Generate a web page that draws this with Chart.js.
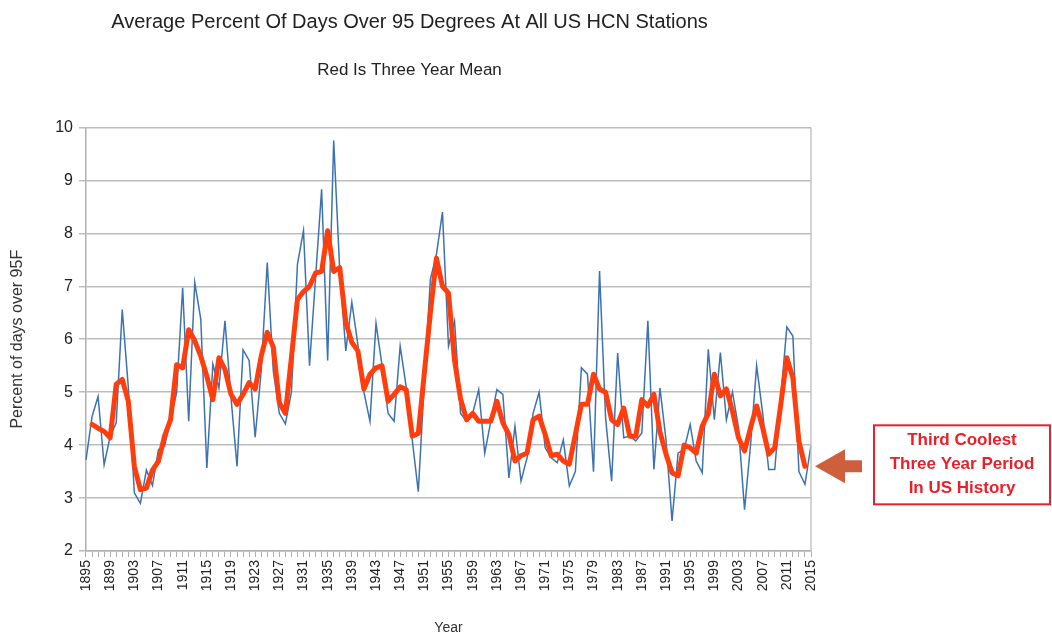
<!DOCTYPE html>
<html>
<head>
<meta charset="utf-8">
<script src="https://cdn.jsdelivr.net/npm/chart.js@4"></script>
<style>
  html, body { margin: 0; padding: 0; background: #fff; }
  #wrap { width: 1052px; height: 637px; }
</style>
</head>
<body>
<div id="wrap"><canvas id="hotDays" width="1052" height="637"></canvas></div>
<script>
const years = [
  1895, 1896, 1897, 1898, 1899, 1900, 1901, 1902, 1903, 1904, 1905, 1906, 1907, 1908, 1909,
  1910, 1911, 1912, 1913, 1914, 1915, 1916, 1917, 1918, 1919, 1920, 1921, 1922, 1923, 1924,
  1925, 1926, 1927, 1928, 1929, 1930, 1931, 1932, 1933, 1934, 1935, 1936, 1937, 1938, 1939,
  1940, 1941, 1942, 1943, 1944, 1945, 1946, 1947, 1948, 1949, 1950, 1951, 1952, 1953, 1954,
  1955, 1956, 1957, 1958, 1959, 1960, 1961, 1962, 1963, 1964, 1965, 1966, 1967, 1968, 1969,
  1970, 1971, 1972, 1973, 1974, 1975, 1976, 1977, 1978, 1979, 1980, 1981, 1982, 1983, 1984,
  1985, 1986, 1987, 1988, 1989, 1990, 1991, 1992, 1993, 1994, 1995, 1996, 1997, 1998, 1999,
  2000, 2001, 2002, 2003, 2004, 2005, 2006, 2007, 2008, 2009, 2010, 2011, 2012, 2013, 2014,
  2015
];

// annual percent of days over 95F
const annualPct = [
  3.72, 4.54, 4.92, 3.63, 4.17, 4.42, 6.56, 5.1, 3.1, 2.9, 3.53, 3.24, 3.92, 3.98, 4.48,
  4.99, 6.97, 4.45, 7.07, 6.38, 3.57, 5.53, 5.08, 6.35, 4.9, 3.6, 5.8, 5.6, 4.15, 5.4,
  7.45, 5.4, 4.6, 4.4, 5.0, 7.42, 8.05, 5.5, 7.17, 8.83, 5.6, 9.75, 7.3, 5.78, 6.7,
  5.9, 5.0, 4.45, 6.3, 5.5, 4.6, 4.45, 5.87, 5.1, 4.1, 3.12, 5.2, 7.13, 7.6, 8.4,
  5.87, 6.34, 4.6, 4.45, 4.6, 5.05, 3.85, 4.45, 5.05, 4.96, 3.38, 4.36, 3.32, 3.76, 4.6,
  5.0, 3.95, 3.76, 3.67, 4.1, 3.23, 3.5, 5.46, 5.34, 3.5, 7.29, 4.52, 3.32, 5.74, 4.14,
  4.17, 4.08, 4.23, 6.35, 3.54, 5.08, 4.1, 2.57, 3.85, 3.92, 4.39, 3.7, 3.48, 5.81, 4.48,
  5.75, 4.48, 5.0, 4.33, 2.78, 4.01, 5.5, 4.6, 3.54, 3.54, 4.9, 6.23, 6.06, 3.5, 3.26,
  4.0
];

// three year mean (centred, so no value at the ends)
const threeYearMean = [
  null, 4.39, 4.32, 4.26, 4.14, 5.15, 5.24, 4.83, 3.6, 3.16, 3.19, 3.53, 3.7, 4.17, 4.48,
  5.52, 5.46, 6.18, 5.97, 5.68, 5.3, 4.86, 5.65, 5.43, 4.96, 4.77, 4.96, 5.18, 5.06, 5.68,
  6.13, 5.85, 4.8, 4.6, 5.65, 6.75, 6.9, 7.0, 7.25, 7.28, 8.05, 7.28, 7.35, 6.32, 5.94,
  5.78, 5.06, 5.34, 5.46, 5.5, 4.83, 4.96, 5.1, 5.05, 4.17, 4.22, 5.36, 6.5, 7.53, 7.0,
  6.87, 5.6, 4.87, 4.48, 4.6, 4.45, 4.45, 4.45, 4.83, 4.42, 4.2, 3.7, 3.8, 3.85, 4.48,
  4.55, 4.2, 3.8, 3.83, 3.7, 3.64, 4.2, 4.77, 4.77, 5.34, 5.06, 5.0, 4.48, 4.39, 4.7,
  4.17, 4.17, 4.86, 4.74, 4.96, 4.25, 3.83, 3.48, 3.42, 4.0, 3.95, 3.85, 4.36, 4.6, 5.34,
  4.93, 5.06, 4.64, 4.14, 3.89, 4.33, 4.74, 4.33, 3.83, 3.95, 4.77, 5.65, 5.27, 4.07, 3.6,
  null
];

const calloutLines = ['Third Coolest', 'Three Year Period', 'In US History'];

const FONT = "'Liberation Sans', Arial, sans-serif";

// arrow + red box on the right, and the right edge of the plot frame
const calloutPlugin = {
  id: 'callout',
  afterDraw(chart) {
    const { ctx, chartArea, scales } = chart;
    ctx.save();
    ctx.strokeStyle = '#c4c4c4';
    ctx.lineWidth = 1.5;
    ctx.beginPath();
    ctx.moveTo(chartArea.right, chartArea.top);
    ctx.lineTo(chartArea.right, chartArea.bottom);
    ctx.stroke();

    const lastMean = threeYearMean[threeYearMean.length - 2];
    const ay = scales.y.getPixelForValue(lastMean);
    const ax = chartArea.right + 4;
    ctx.fillStyle = '#cd5f3c';
    ctx.beginPath();
    ctx.moveTo(ax, ay);
    ctx.lineTo(ax + 30, ay - 17);
    ctx.lineTo(ax + 30, ay - 6);
    ctx.lineTo(ax + 47, ay - 6);
    ctx.lineTo(ax + 47, ay + 6);
    ctx.lineTo(ax + 30, ay + 6);
    ctx.lineTo(ax + 30, ay + 17);
    ctx.closePath();
    ctx.fill();

    const bx = chartArea.right + 63;
    const bw = 176;
    const bh = 79;
    const by = ay - 41;
    ctx.strokeStyle = '#e8202a';
    ctx.lineWidth = 2;
    ctx.strokeRect(bx, by, bw, bh);
    ctx.fillStyle = '#e8202a';
    ctx.font = 'bold 17px ' + FONT;
    ctx.textAlign = 'center';
    ctx.textBaseline = 'middle';
    calloutLines.forEach((t, i) => {
      ctx.fillText(t, bx + bw / 2, by + 15 + i * 24);
    });
    ctx.restore();
  }
};

new Chart(document.getElementById('hotDays'), {
  type: 'line',
  data: {
    labels: years,
    datasets: [
      {
        label: 'Three year mean',
        data: threeYearMean,
        borderColor: '#ff3d0d',
        borderWidth: 5,
        borderJoinStyle: 'round',
        borderCapStyle: 'round',
        pointRadius: 0,
        tension: 0,
        order: 0
      },
      {
        label: 'Annual',
        data: annualPct,
        borderColor: '#3d72b0',
        borderWidth: 1.5,
        pointRadius: 0,
        tension: 0,
        order: 1
      }
    ]
  },
  options: {
    responsive: false,
    animation: false,
    layout: { padding: { left: 8, right: 241, top: 0, bottom: 0 } },
    plugins: {
      legend: { display: false },
      tooltip: { enabled: false },
      title: {
        display: true,
        text: 'Average Percent Of Days Over 95 Degrees At All US HCN Stations',
        color: '#222',
        font: { family: FONT, size: 20, weight: 'normal' },
        padding: { top: 10, bottom: 26 }
      },
      subtitle: {
        display: true,
        text: 'Red Is Three Year Mean',
        color: '#222',
        font: { family: FONT, size: 17, weight: 'normal' },
        padding: { top: 0, bottom: 47 }
      }
    },
    scales: {
      x: {
        type: 'category',
        offset: false,
        grid: {
          drawOnChartArea: false,
          drawTicks: true,
          tickLength: 6,
          color: '#b0b0b0'
        },
        border: { color: '#b0b0b0', width: 1.5 },
        ticks: {
          autoSkip: false,
          maxRotation: 90,
          minRotation: 90,
          padding: 3,
          color: '#222',
          font: { family: FONT, size: 14 },
          callback(value, index) {
            return (years[index] - years[0]) % 4 === 0 ? String(years[index]) : '';
          }
        },
        title: {
          display: true,
          text: 'Year',
          color: '#333',
          font: { family: FONT, size: 14 },
          padding: { top: 26, bottom: 0 }
        }
      },
      y: {
        min: 2,
        max: 10,
        grid: {
          color: '#bdbdbd',
          lineWidth: 1.5,
          tickLength: 7
        },
        border: { color: '#b0b0b0', width: 1.5 },
        ticks: {
          stepSize: 1,
          padding: 6,
          color: '#222',
          font: { family: FONT, size: 16 }
        },
        title: {
          display: true,
          text: 'Percent of days over 95F',
          color: '#333',
          font: { family: FONT, size: 16 },
          padding: { top: 0, bottom: 22 }
        }
      }
    }
  },
  plugins: [calloutPlugin]
});
</script>
</body>
</html>
